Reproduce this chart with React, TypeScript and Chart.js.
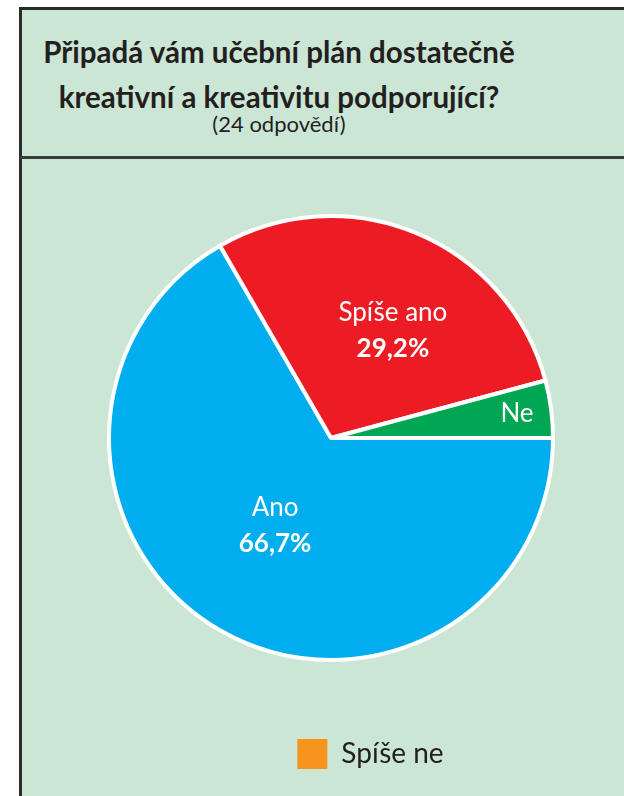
import React, { useEffect, useRef } from "react";
import { Chart, registerables } from "chart.js";

Chart.register(...registerables);

const TITLE_LINES = ["Připadá vám učební plán dostatečně", "kreativní a kreativitu podporující?"];
const SUBTITLE = "(24 odpovědí)";
const CATEGORIES = ["Ano", "Spíše ano", "Ne", "Spíše ne"];
const COUNTS = [16, 7, 1, 0];
const COLORS = ["#00AEEF", "#ED1C24", "#00A651", "#F7941D"];

// label placement style: angle fraction within slice, radius fraction
const LABEL_ANGLE_T = [0.51, 0.57, 0.5, 0.5];
const LABEL_RADIUS_T = [0.47, 0.56, 0.845, 0.5];

const FONT = "Lato, 'Open Sans', sans-serif";

const sliceLabels = {
  id: "sliceLabels",
  afterDatasetsDraw(chart: any) {
    const ctx = chart.ctx;
    const meta = chart.getDatasetMeta(0);
    const data = chart.data.datasets[0].data as number[];
    const total = data.reduce((a, b) => a + b, 0);
    meta.data.forEach((arc: any, i: number) => {
      const v = data[i];
      if (!v) return;
      const { startAngle, endAngle, outerRadius, x, y } = arc.getProps(
        ["startAngle", "endAngle", "outerRadius", "x", "y"],
        true
      );
      const ang = startAngle + (endAngle - startAngle) * LABEL_ANGLE_T[i];
      const r = outerRadius * LABEL_RADIUS_T[i];
      const cx = x + Math.cos(ang) * r;
      const cy = y + Math.sin(ang) * r;
      const share = v / total;
      ctx.save();
      ctx.fillStyle = "#ffffff";
      ctx.textAlign = "center";
      ctx.textBaseline = "middle";
      if (share > 0.1) {
        ctx.font = `400 26px ${FONT}`;
        ctx.fillText(chart.data.labels[i], cx, cy - 18);
        ctx.font = `700 26px ${FONT}`;
        const pct = (share * 100).toFixed(1).replace(".", ",") + "%";
        ctx.fillText(pct, cx, cy + 18);
      } else {
        ctx.font = `400 26px ${FONT}`;
        ctx.fillText(chart.data.labels[i], cx, cy);
      }
      ctx.restore();
    });
  },
};

export default function App() {
  const ref = useRef<HTMLCanvasElement | null>(null);

  useEffect(() => {
    if (!ref.current) return;
    const defaultLabels = (Chart as any).overrides.pie.plugins.legend.labels.generateLabels;
    const chart = new Chart(ref.current, {
      type: "pie",
      data: {
        labels: CATEGORIES,
        datasets: [
          {
            data: COUNTS,
            backgroundColor: COLORS,
            borderColor: "#ffffff",
            borderWidth: 4,
            radius: 222,
            clip: false,
          } as any,
        ],
      },
      options: {
        responsive: false,
        animation: false,
        events: [],
        rotation: 90,
        layout: { padding: { left: 95, right: 0, top: 0, bottom: 0 } },
        plugins: {
          tooltip: { enabled: false },
          // invisible spacer box on the right, shifting the pie left of the legend centre
          title: {
            display: true,
            text: " ",
            position: "right",
            fullSize: false,
            font: { size: 10, lineHeight: 1 },
            padding: { top: 69, bottom: 0 },
          },
          legend: {
            display: true,
            position: "bottom",
            align: "center",
            fullSize: true,
            labels: {
              boxWidth: 30,
              boxHeight: 30,
              padding: 10,
              color: "#231f20",
              font: { family: FONT, size: 28, weight: "400" },
              generateLabels: (c: any) =>
                defaultLabels(c).map((it: any) => ({ ...it, lineWidth: 0, strokeStyle: "rgba(0,0,0,0)" })),
              filter: (item: any, data: any) => data.datasets[0].data[item.index] === 0,
            },
          },
        },
      } as any,
      plugins: [sliceLabels],
    });
    return () => chart.destroy();
  }, []);

  const lineStyle = (top: number, size: number, weight: number): React.CSSProperties => ({
    position: "absolute",
    left: 0,
    width: 558,
    top,
    textAlign: "center",
    fontFamily: FONT,
    fontSize: size,
    lineHeight: `${size}px`,
    fontWeight: weight,
    color: "#231f20",
    whiteSpace: "nowrap",
  });

  return (
    <div style={{ position: "absolute", left: 0, top: 0, width: 624, height: 796, overflow: "hidden", background: "#ffffff" }}>
      <div
        style={{
          position: "absolute",
          left: 19,
          top: 7,
          width: 700,
          height: 900,
          background: "#CCE6D6",
          borderLeft: "3px solid #2b2b2b",
          borderTop: "3px solid #2b2b2b",
        }}
      />
      <div style={{ position: "absolute", left: 19, top: 156, width: 700, height: 3, background: "#3a3a3a" }} />
      <div style={lineStyle(37, 29.5, 700)}>{TITLE_LINES[0]}</div>
      <div style={lineStyle(82, 29.5, 700)}>{TITLE_LINES[1]}</div>
      <div style={lineStyle(113, 22, 400)}>{SUBTITLE}</div>
      <canvas
        ref={ref}
        width={602}
        height={632}
        style={{ position: "absolute", left: 22, top: 147, width: 602, height: 632 }}
      />
    </div>
  );
}
